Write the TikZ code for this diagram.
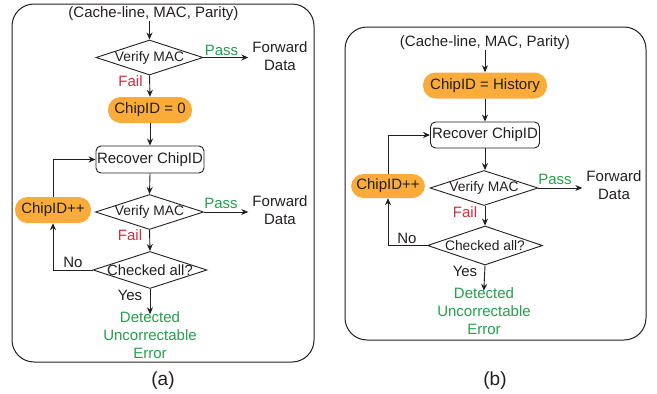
\documentclass[tikz,border=0pt]{standalone}
\usepackage{fontspec}
\setmainfont{Liberation Sans}
\usetikzlibrary{shapes.geometric,arrows.meta}
\definecolor{ink}{RGB}{35,31,32}
\definecolor{okgreen}{RGB}{35,160,75}
\definecolor{failred}{RGB}{210,45,65}
\definecolor{chiporange}{RGB}{250,172,58}
\begin{document}
\begin{tikzpicture}[x=1pt,y=-1pt,
  txt/.style={font=\fontsize{15}{18}\selectfont, text=ink, inner sep=0pt, align=center},
  passtxt/.style={txt, text=okgreen},
  failtxt/.style={txt, text=failred},
  dettxt/.style={txt, text=okgreen},
  captxt/.style={font=\fontsize{19}{22}\selectfont, text=ink, inner sep=0pt},
  orangebox/.style={fill=chiporange, draw=none, rounded corners=12.5pt, inner sep=0pt, minimum height=26pt, font=\fontsize{15}{18}\selectfont, text=ink},
  recbox/.style={draw=ink, rounded corners=5pt, minimum width=108pt, minimum height=27pt, inner sep=0pt, line width=0.9pt, font=\fontsize{15}{18}\selectfont, text=ink},
  dia/.style={diamond, draw=ink, inner sep=0pt, line width=0.9pt},
  diatxt/.style={font=\fontsize{13.8}{16}\selectfont, text=ink, inner sep=0pt},
  arr/.style={draw=ink, line width=0.9pt, -{Stealth[length=7pt,width=6pt]}},
  frame/.style={draw=ink, rounded corners=22pt, line width=1pt}]
\useasboundingbox (0,0) rectangle (657,394);

% ---------------- panel (a) ----------------
\draw[frame] (12,4) rectangle (314,362);
\node[txt] (inA) at (153.5,14) {(Cache-line, MAC, Parity)};
\node[dia, minimum width=107pt, minimum height=35pt, label={[diatxt]center:Verify MAC}] (v1a) at (149.5,57.5) {};
\node[passtxt] (p1a) at (221.5,50) {Pass};
\node[txt] (fw1a) at (280,56) {Forward\\Data};
\node[failtxt] (fl1a) at (130.5,81) {Fail};
\node[orangebox, minimum width=84pt] (c0a) at (150,110) {ChipID = 0};
\node[recbox] (reca) at (150,159.5) {Recover ChipID};
\node[dia, minimum width=108pt, minimum height=35pt, label={[diatxt]center:Verify MAC}] (v2a) at (149.5,212) {};
\node[passtxt] (p2a) at (221,203) {Pass};
\node[txt] (fw2a) at (280,210) {Forward\\Data};
\node[orangebox, minimum width=76pt] (cpa) at (53,210) {ChipID++};
\node[failtxt] (fl2a) at (130,235) {Fail};
\node[dia, minimum width=114pt, minimum height=37pt, label={[diatxt, font=\fontsize{14.8}{16}\selectfont]center:Checked all?}] (cka) at (150,270) {};
\node[txt] (noa) at (73,262) {No};
\node[txt] (yesa) at (130,295) {Yes};
\node[dettxt] (deta) at (150,335) {Detected\\Uncorrectable\\Error};
\node[captxt] (capa) at (163,381) {(a)};

\draw[arr] (inA.south -| v1a.north) -- (v1a.north);
\draw[arr, shorten >=4pt] (v1a.east) -- (v1a.east -| fw1a.west);
\draw[arr] (v1a.south) -- (c0a.north);
\draw[arr] (c0a.south) -- (reca.north);
\draw[arr] (reca.south) -- (v2a.north);
\draw[arr, shorten >=4pt] (v2a.east) -- (v2a.east -| fw2a.west);
\draw[arr] (v2a.south) -- (cka.north);
\draw[arr] (cpa.north) |- (reca.west);
\draw[arr] (cka.west) -| (cpa.south);
\draw[arr, shorten >=-3pt] (cka.south) -- (deta.north);

% ---------------- panel (b) ----------------
\draw[frame] (345,27) rectangle (646,340);
\node[txt] (inB) at (485,43) {(Cache-line, MAC, Parity)};
\node[orangebox, minimum width=124pt] (chb) at (485,85.5) {ChipID = History};
\node[recbox, minimum width=109pt, minimum height=26pt] (recb) at (485,135) {Recover ChipID};
\node[dia, minimum width=108pt, minimum height=35pt, label={[diatxt]center:Verify MAC}] (v1b) at (484,188) {};
\node[passtxt] (p1b) at (555,179) {Pass};
\node[txt] (fw1b) at (614,185.5) {Forward\\Data};
\node[orangebox, minimum width=74pt, minimum height=24pt] (cpb) at (388,186) {ChipID++};
\node[failtxt] (fl1b) at (465,212) {Fail};
\node[dia, minimum width=115pt, minimum height=39pt, label={[diatxt]center:Checked all?}] (ckb) at (485,245.5) {};
\node[txt] (nob) at (407,238) {No};
\node[txt] (yesb) at (465,271) {Yes};
\node[dettxt] (detb) at (484,311.5) {Detected\\Uncorrectable\\Error};
\node[captxt] (capb) at (495,381) {(b)};

\draw[arr] (inB.south -| chb.north) -- (chb.north);
\draw[arr] (chb.south) -- (recb.north);
\draw[arr] (recb.south) -- (recb.south |- v1b.north);
\draw[arr, shorten >=4pt] (v1b.east) -- (v1b.east -| fw1b.west);
\draw[arr] (v1b.south -| ckb.north) -- (ckb.north);
\draw[arr] (cpb.north) |- (recb.west);
\draw[arr] (ckb.west) -| (cpb.south);
\draw[arr, shorten >=-3pt] (ckb.south) -- (detb.north);
\end{tikzpicture}
\end{document}
